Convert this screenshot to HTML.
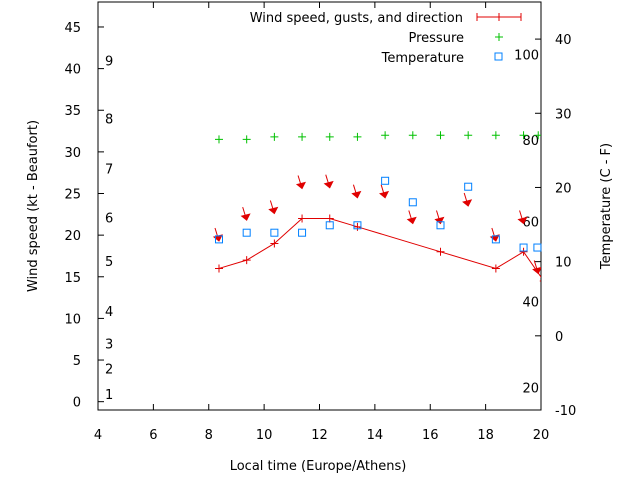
<!DOCTYPE html>
<html><head><meta charset="utf-8"><style>
body{margin:0;background:#fff;}
svg text{font-family:"DejaVu Sans","Liberation Sans",sans-serif;font-size:13px;fill:#000;}
</style></head><body>
<svg width="640" height="480" xmlns="http://www.w3.org/2000/svg">
<g id="axes"></g>
<g id="marks"></g>
</svg>
<script>
const windTimes=[8.37,9.37,10.37,11.37,12.37,13.37,16.37,18.37,19.37,20.1];
const windSpeed=[16,17,19,22,22,21,18,16,18,14.5];
const arrowTimes=[8.37,9.37,10.37,11.37,12.37,13.37,14.37,15.37,16.37,17.37,18.37,19.37,19.9];
const gustSpeed=[19.3,21.8,22.6,25.6,25.7,24.5,24.5,21.4,21.4,23.5,19.3,21.4,15.4];
const pressTimes=[8.37,9.37,10.37,11.37,12.37,13.37,14.37,15.37,16.37,17.37,18.37,19.37,19.9];
const pressure=[31.5,31.5,31.8,31.8,31.8,31.8,32,32,32,32,32,32,32];
const tempTimes=[8.37,9.37,10.37,11.37,12.37,13.37,14.37,15.37,16.37,17.37,18.37,19.37,19.87];
const temperature=[13,13.9,13.9,13.9,14.9,14.9,20.9,18,14.9,20.1,13,11.9,11.9];
const xTicks=[4,6,8,10,12,14,16,18,20];
const yTicks=[0,5,10,15,20,25,30,35,40,45];
const y2Ticks=[-10,0,10,20,30,40];
const beaufort=[["1",0.9],["2",4],["3",7],["4",10.9],["5",16.9],["6",22.1],["7",28],["8",34],["9",41]];
const fahr=[["20",-7],["40",4.6],["60",15.4],["80",26.4],["100",37.9]];

const L=98,R=541,T=2,B=410;
const X=t=>L+(t-4)/16*(R-L);
const Y=v=>B-(v+1)/49*(B-T);
const Y2=v=>B-(v+10)/55*(B-T);
const NS="http://www.w3.org/2000/svg";
const ax=document.getElementById('axes'),mk=document.getElementById('marks');
function el(p,tag,a,txt){const e=document.createElementNS(NS,tag);for(const k in a)e.setAttribute(k,a[k]);if(txt!==undefined)e.textContent=txt;p.appendChild(e);return e;}

let f=el(ax,'rect',{x:L,y:T,width:R-L,height:B-T,fill:'none',stroke:'#000','stroke-width':1});


xTicks.forEach(t=>{
 el(ax,'line',{x1:X(t),x2:X(t),y1:B,y2:B-6,stroke:'#000'});
 el(ax,'line',{x1:X(t),x2:X(t),y1:T,y2:T+6,stroke:'#000'});
 let e=el(ax,'text',{x:X(t),y:439,'text-anchor':'middle'},t);
 
 
});
yTicks.forEach(v=>{
 el(ax,'line',{x1:L,x2:L+6,y1:Y(v),y2:Y(v),stroke:'#000'});
 let e=el(ax,'text',{x:81,y:Y(v)+5,'text-anchor':'end'},v);
 
 
});
y2Ticks.forEach(v=>{
 el(ax,'line',{x1:R,x2:R-6,y1:Y2(v),y2:Y2(v),stroke:'#000'});
 let e=el(ax,'text',{x:555,y:Y2(v)+5,'text-anchor':'start'},v);
 
 
});
beaufort.forEach(b=>{
 let e=el(ax,'text',{x:105,y:Y(b[1])+5},b[0]);
 
 
});
fahr.forEach(b=>{
 let e=el(ax,'text',{x:539,y:Y2(b[1])+5,'text-anchor':'end'},b[0]);
 
 
});
let xt=el(ax,'text',{x:318,y:470,'text-anchor':'middle'},'Local time (Europe/Athens)');


let yt=el(ax,'text',{x:0,y:0,transform:'translate(37,206) rotate(-90)','text-anchor':'middle'},'Wind speed (kt - Beaufort)');


let y2t=el(ax,'text',{x:0,y:0,transform:'translate(610,206) rotate(-90)','text-anchor':'middle'},'Temperature (C - F)');



let lg=el(ax,'g',{});


el(lg,'text',{x:463,y:22,'text-anchor':'end'},'Wind speed, gusts, and direction');
el(lg,'line',{x1:477,x2:521,y1:17,y2:17,stroke:'#e00000'});
el(lg,'line',{x1:477,x2:477,y1:13,y2:21,stroke:'#e00000'});
el(lg,'line',{x1:521,x2:521,y1:13,y2:21,stroke:'#e00000'});
el(lg,'line',{x1:499,x2:499,y1:13,y2:21,stroke:'#e00000'});
el(lg,'text',{x:464,y:42,'text-anchor':'end'},'Pressure');
el(lg,'path',{d:'M495,37h8M499,33v8',stroke:'#00c000'});
el(lg,'text',{x:464,y:62,'text-anchor':'end'},'Temperature');
el(lg,'rect',{x:495,y:53,width:7,height:7,fill:'none',stroke:'#0080ff'});

let pts=windTimes.map((t,i)=>X(t)+','+Y(windSpeed[i])).join(' ');
let svgc=el(mk,'svg',{x:L,y:T,width:R-L,height:B-T,viewBox:`${L} ${T} ${R-L} ${B-T}`,overflow:'hidden'});
let wl=el(svgc,'polyline',{points:pts,fill:'none',stroke:'#e00000'});


windTimes.forEach((t,i)=>{
 let p=el(svgc,'path',{d:`M${X(t)-4},${Y(windSpeed[i])}h8M${X(t)},${Y(windSpeed[i])-4}v8`,stroke:'#e00000'});
 
 
});
arrowTimes.forEach((t,i)=>{
 const x=X(t),y=Y(gustSpeed[i]);
 let g=el(svgc,'g',{});
 
 
 el(g,'line',{x1:x-4,y1:y-13,x2:x,y2:y,stroke:'#e00000'});
 el(g,'polygon',{points:`${x},${y} ${x-5},${y-4} ${x+3},${y-6}`,fill:'#e00000',stroke:'#e00000'});
});
pressTimes.forEach((t,i)=>{
 let p=el(svgc,'path',{d:`M${X(t)-4},${Y(pressure[i])}h8M${X(t)},${Y(pressure[i])-4}v8`,stroke:'#00c000'});
 
 
});
tempTimes.forEach((t,i)=>{
 let r=el(mk,'rect',{x:X(t)-3.5,y:Y2(temperature[i])-3.5,width:7,height:7,fill:'none',stroke:'#0080ff'});
 
 
});
</script>
</body></html>
